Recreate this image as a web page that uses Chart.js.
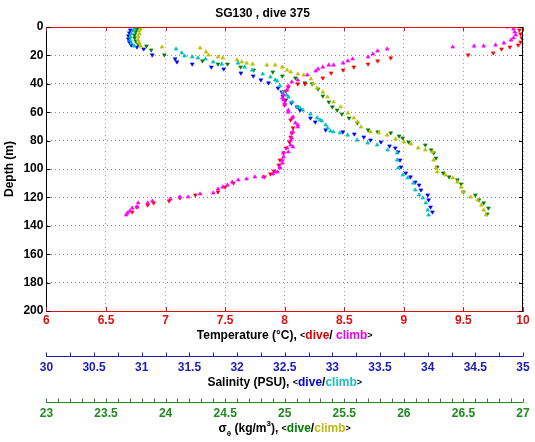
<!DOCTYPE html>
<html>
<head>
<meta charset="utf-8">
<script src="https://cdn.jsdelivr.net/npm/chart.js@4.4.0/dist/chart.umd.min.js"></script>
<style>
  html, body { margin: 0; padding: 0; background: #fff; }
  #wrap { width: 535px; height: 442px; position: relative; }
</style>
</head>
<body>
<div id="wrap"><canvas id="c"></canvas></div>
<script>
// temperature (°C) - dive / climb
const tempDiveT = [9.97, 9.98, 9.99, 9.98, 9.96, 9.89, 9.82, 9.75, 9.54, 8.89, 8.78, 8.70, 8.58, 8.49, 8.39, 8.32, 8.17, 8.11, 8.03, 8.01, 8.00, 8.00, 8.05, 8.07, 8.06, 8.05, 8.04, 8.01, 7.99, 7.96, 7.95, 7.91, 7.88, 7.83, 7.57, 7.50, 7.44, 7.25, 7.12, 7.03, 6.90, 6.85, 6.76, 6.72];
const tempDiveD = [2.1, 4.9, 7.7, 10.6, 12.7, 14.1, 15.5, 18.3, 19.7, 21.8, 23.9, 26.1, 28.2, 30.3, 32.4, 35.9, 40.1, 40.1, 42.3, 45.1, 51.4, 54.9, 65.5, 71.1, 74.6, 77.5, 81.0, 85.2, 88.7, 93.7, 97.2, 101.4, 103.5, 105.6, 109.9, 112.7, 116.2, 118.3, 120.4, 122.5, 123.9, 125.4, 126.8, 130.3];
const tempClimbT = [9.87, 9.92, 9.93, 9.94, 9.92, 9.90, 9.84, 9.77, 9.67, 9.59, 9.41, 8.86, 8.78, 8.74, 8.70, 8.57, 8.53, 8.49, 8.41, 8.37, 8.32, 8.28, 8.26, 8.19, 8.11, 8.06, 8.03, 8.02, 7.99, 7.98, 7.99, 8.00, 8.00, 8.03, 8.03, 8.06, 8.07, 8.09, 8.11, 8.11, 8.07, 8.06, 8.06, 8.05, 8.05, 8.07, 8.02, 8.03, 7.99, 7.99, 7.98, 7.98, 7.96, 7.96, 7.94, 7.92, 7.90, 7.82, 7.75, 7.68, 7.61, 7.56, 7.52, 7.48, 7.44, 7.40, 7.29, 7.19, 7.12, 7.04, 6.89, 6.85, 6.77, 6.76, 6.72, 6.70, 6.68, 6.67];
const tempClimbD = [0.0, 1.4, 3.5, 5.6, 7.7, 9.2, 11.3, 12.7, 13.4, 13.4, 14.1, 15.5, 16.9, 19.0, 21.1, 22.5, 23.9, 25.4, 26.8, 26.8, 28.2, 29.6, 31.0, 33.8, 37.3, 38.7, 41.5, 44.4, 47.9, 50.0, 51.4, 53.5, 54.9, 58.5, 59.9, 64.1, 63.4, 67.6, 69.0, 70.4, 73.9, 74.6, 78.2, 79.6, 83.1, 84.5, 85.2, 88.0, 88.7, 91.5, 93.7, 95.8, 98.6, 99.3, 102.1, 102.1, 103.5, 105.6, 105.6, 107.0, 107.7, 109.2, 111.3, 112.7, 114.1, 116.9, 117.6, 119.7, 119.7, 121.1, 122.5, 123.9, 123.9, 126.8, 127.5, 129.6, 131.0, 132.4];

// salinity (PSU) - dive / climb
const salDiveS = [30.88, 30.87, 30.86, 30.86, 30.87, 30.89, 30.95, 31.02, 31.11, 31.35, 31.37, 31.53, 31.73, 31.86, 32.04, 32.17, 32.25, 32.33, 32.43, 32.47, 32.48, 32.51, 32.57, 32.63, 32.66, 32.77, 32.82, 32.93, 33.11, 33.23, 33.33, 33.40, 33.51, 33.60, 33.66, 33.69, 33.71, 33.72, 33.77, 33.82, 33.87, 33.91, 33.93, 34.00, 34.01, 34.03, 34.05];
const salDiveD = [2.1, 4.2, 6.3, 8.5, 10.6, 12.7, 14.1, 15.5, 19.7, 22.5, 24.6, 26.1, 28.2, 29.6, 32.4, 34.5, 37.3, 39.4, 43.0, 45.8, 48.6, 51.4, 53.5, 56.3, 58.5, 64.1, 66.9, 72.5, 73.9, 75.4, 77.5, 79.6, 81.0, 83.8, 85.2, 88.0, 93.7, 98.6, 102.8, 105.6, 109.2, 111.3, 114.8, 118.3, 121.8, 126.8, 130.3];
const salClimbS = [30.93, 30.92, 30.91, 30.89, 30.88, 30.88, 30.89, 30.92, 31.36, 31.42, 31.45, 31.53, 31.59, 31.67, 31.75, 31.84, 32.01, 32.08, 32.16, 32.27, 32.35, 32.40, 32.42, 32.45, 32.48, 32.52, 32.54, 32.58, 32.63, 32.66, 32.69, 32.77, 32.84, 32.87, 32.89, 32.93, 32.95, 32.98, 33.01, 33.08, 33.16, 33.26, 33.37, 33.47, 33.58, 33.68, 33.68, 33.69, 33.74, 33.79, 33.85, 33.87, 33.91, 33.95, 33.98, 34.00, 34.01];
const salClimbD = [0.0, 1.4, 2.8, 4.9, 7.0, 9.2, 11.3, 13.4, 15.5, 18.3, 20.4, 21.1, 21.8, 22.5, 24.6, 26.1, 25.4, 28.2, 30.3, 33.1, 35.2, 37.3, 38.0, 41.5, 45.8, 47.9, 49.3, 52.8, 56.3, 57.0, 58.5, 61.3, 64.1, 65.5, 66.2, 69.0, 71.1, 73.2, 73.9, 74.6, 76.1, 79.6, 81.7, 83.1, 86.6, 88.7, 93.7, 99.3, 104.2, 106.3, 109.9, 114.8, 118.3, 120.4, 123.9, 128.9, 132.4];

// sigma-theta (kg/m3) - dive / climb
const sigDiveG = [23.76, 23.75, 23.74, 23.74, 23.75, 23.77, 23.84, 23.88, 23.99, 24.31, 24.44, 24.52, 24.63, 24.74, 24.90, 24.98, 25.09, 25.17, 25.23, 25.28, 25.32, 25.37, 25.40, 25.44, 25.48, 25.54, 25.61, 25.70, 25.78, 25.89, 25.96, 25.99, 26.04, 26.18, 26.23, 26.25, 26.27, 26.28, 26.33, 26.38, 26.45, 26.48, 26.50, 26.60, 26.63, 26.67, 26.71, 26.70];
const sigDiveD = [1.4, 3.5, 5.6, 7.7, 9.9, 12.0, 13.4, 16.2, 19.7, 23.9, 26.1, 26.1, 28.2, 30.3, 31.7, 34.5, 35.9, 39.4, 40.1, 43.7, 48.6, 52.8, 56.3, 58.5, 61.3, 64.1, 67.6, 72.5, 73.9, 74.6, 76.8, 78.2, 81.0, 83.1, 86.6, 88.7, 92.3, 98.6, 102.8, 105.6, 107.7, 110.6, 116.2, 118.3, 121.8, 123.9, 127.5, 131.7];
const sigClimbG = [23.81, 23.79, 23.78, 23.78, 23.77, 23.77, 23.78, 23.79, 23.97, 24.29, 24.34, 24.36, 24.44, 24.48, 24.60, 24.64, 24.68, 24.73, 24.85, 24.92, 24.98, 25.02, 25.05, 25.11, 25.16, 25.22, 25.24, 25.27, 25.32, 25.36, 25.41, 25.47, 25.53, 25.58, 25.61, 25.64, 25.72, 25.79, 25.86, 25.93, 26.00, 26.06, 26.12, 26.18, 26.24, 26.25, 26.27, 26.28, 26.35, 26.41, 26.45, 26.48, 26.50, 26.56, 26.62, 26.65, 26.67, 26.69];
const sigClimbD = [0.0, 1.4, 2.8, 4.9, 7.0, 9.2, 11.3, 13.4, 14.1, 14.8, 17.6, 19.7, 21.1, 21.8, 23.2, 24.6, 25.4, 26.1, 26.8, 26.8, 28.2, 30.3, 31.7, 33.1, 33.8, 36.6, 40.1, 43.0, 45.8, 49.3, 52.8, 56.3, 60.6, 64.1, 66.9, 70.4, 73.9, 74.6, 76.1, 78.9, 81.0, 82.4, 85.2, 86.6, 88.0, 93.7, 99.3, 102.1, 104.2, 106.3, 109.2, 112.7, 116.2, 119.7, 121.8, 125.4, 128.9, 132.4];

const FONT = '"Liberation Sans", Arial, Helvetica, sans-serif';
const RED = '#dd1111', BLUE = '#1c1cb4', GREEN = '#1f8a1f';

function pts(xs, ds) {
    return xs.map((v, i) => ({ x: v, y: ds[i] }));
}

function series(label, xs, ds, color, axis, down) {
    return {
        label,
        data: pts(xs, ds),
        xAxisID: axis,
        yAxisID: 'y',
        showLine: false,
        pointStyle: 'triangle',
        rotation: down ? 180 : 0,
        pointRadius: 2.2,
        pointBorderWidth: 0.6,
        backgroundColor: color,
        borderColor: color
    };
}

// draws multi-coloured text centred on cx
function drawParts(ctx, parts, cx, cy) {
    let w = 0;
    parts.forEach(p => {
        ctx.font = `bold ${p.s || 12}px ${FONT}`;
        p.w = ctx.measureText(p.t).width;
        w += p.w;
    });
    let x = cx - w / 2;
    ctx.textAlign = 'left';
    ctx.textBaseline = 'middle';
    parts.forEach(p => {
        ctx.font = `bold ${p.s || 12}px ${FONT}`;
        ctx.fillStyle = p.c || '#000';
        ctx.fillText(p.t, x, cy + (p.dy || 0));
        x += p.w;
    });
}

// centre of the (hidden) axis title, lineHeight 12
function titleY(scale) {
    return scale.bottom - scale.options.title.padding.bottom - 6;
}

const decor = {
    id: 'decor',
    afterDraw(chart) {
        const { ctx, chartArea: a, scales } = chart;
        ctx.save();
        ctx.lineWidth = 1;

        // frame top (red) and right (black)
        ctx.strokeStyle = RED;
        ctx.beginPath(); ctx.moveTo(a.left, Math.round(a.top) + 0.5); ctx.lineTo(a.right, Math.round(a.top) + 0.5); ctx.stroke();
        ctx.strokeStyle = '#000';
        ctx.beginPath(); ctx.moveTo(Math.round(a.right) - 0.5, a.top); ctx.lineTo(Math.round(a.right) - 0.5, a.bottom); ctx.stroke();

        // inward ticks on the plot box
        ctx.strokeStyle = RED;
        scales.x.ticks.forEach(t => {
            const px = Math.round(scales.x.getPixelForValue(t.value)) + 0.5;
            ctx.beginPath();
            ctx.moveTo(px, a.top); ctx.lineTo(px, a.top + 4);
            ctx.moveTo(px, a.bottom); ctx.lineTo(px, a.bottom - 4);
            ctx.stroke();
        });
        ctx.strokeStyle = '#000';
        scales.y.ticks.forEach(t => {
            const py = Math.round(scales.y.getPixelForValue(t.value)) + 0.5;
            ctx.beginPath();
            ctx.moveTo(a.left, py); ctx.lineTo(a.left + 4, py);
            ctx.moveTo(a.right, py); ctx.lineTo(a.right - 4, py);
            ctx.stroke();
        });

        // extra axes: line with ticks pointing up, just above the label box
        [['xs', BLUE], ['xg', GREEN]].forEach(([id, col]) => {
            const s = scales[id];
            const y0 = Math.round(s.top - 3) + 0.5;
            ctx.strokeStyle = col;
            ctx.beginPath();
            ctx.moveTo(s.left, y0); ctx.lineTo(s.right, y0);
            s.ticks.forEach(t => {
                const px = Math.round(s.getPixelForValue(t.value)) + 0.5;
                ctx.moveTo(px, y0); ctx.lineTo(px, y0 - 4);
            });
            ctx.stroke();
        });

        // axis titles with coloured parts
        const cx = (a.left + a.right) / 2;
        drawParts(ctx, [
            { t: 'Temperature (°C), ' },
            { t: '<', s: 9 },
            { t: 'dive', c: '#e00000' },
            { t: '/ ' },
            { t: 'climb', c: '#ee00ee' },
            { t: '>', s: 9 }
        ], cx, titleY(scales.x));
        drawParts(ctx, [
            { t: 'Salinity (PSU), ' },
            { t: '<', s: 9 },
            { t: 'dive', c: '#0000e0' },
            { t: '/' },
            { t: 'climb', c: '#1cbcbc' },
            { t: '>', s: 9 }
        ], cx, titleY(scales.xs));
        drawParts(ctx, [
            { t: 'σ' },
            { t: 'θ', s: 8, dy: 5 },
            { t: ' (kg/m' },
            { t: '3', s: 8, dy: -5 },
            { t: '), ' },
            { t: '<', s: 9 },
            { t: 'dive', c: '#008000' },
            { t: '/' },
            { t: 'climb', c: '#bcbc10' },
            { t: '>', s: 9 }
        ], cx, titleY(scales.xg));
        ctx.restore();
    }
};

const halfLabel = v => (Math.abs(v * 2 - Math.round(v * 2)) < 1e-6 ? String(Math.round(v * 2) / 2) : '');
const tickFont = { family: FONT, size: 12, weight: 'bold', lineHeight: 1 };
const hiddenTitle = (text, bottom) => ({
    display: true, text, color: 'rgba(0,0,0,0)',
    font: { family: FONT, size: 12, weight: 'bold', lineHeight: 1 }, padding: { top: 0, bottom }
});

new Chart(document.getElementById('c'), {
    type: 'scatter',
    data: {
        datasets: [
            series('T climb', tempClimbT, tempClimbD, '#ff00ff', 'x', false),
            series('S climb', salClimbS, salClimbD, '#00c0c0', 'xs', false),
            series('sigma climb', sigClimbG, sigClimbD, '#bfbf00', 'xg', false),
            series('T dive', tempDiveT, tempDiveD, '#ff0000', 'x', true),
            series('S dive', salDiveS, salDiveD, '#0000ff', 'xs', true),
            series('sigma dive', sigDiveG, sigDiveD, '#008000', 'xg', true)
        ]
    },
    options: {
        responsive: true,
        maintainAspectRatio: false,
        animation: false,
        layout: { padding: { left: 2, right: 12, top: 0, bottom: 0 } },
        plugins: {
            legend: { display: false },
            tooltip: { enabled: false },
            title: {
                display: true,
                text: 'SG130 , dive 375',
                color: '#000',
                font: { family: FONT, size: 12, weight: 'bold' },
                padding: { top: 6, bottom: 6.6 }
            }
        },
        scales: {
            y: {
                type: 'linear', reverse: true, min: 0, max: 200,
                ticks: { stepSize: 20, color: '#000', padding: 3, font: { family: FONT, size: 12, weight: 'bold' } },
                grid: { color: '#8c8c8c', drawTicks: false, lineWidth: 1 },
                border: { color: '#000', width: 1, dash: [1, 3] },
                title: { display: true, text: 'Depth (m)', color: '#000', font: { family: FONT, size: 12, weight: 'bold' }, padding: { top: 0, bottom: 4 } }
            },
            x: {
                type: 'linear', position: 'bottom', weight: 0, min: 6, max: 10,
                ticks: { stepSize: 0.5, color: RED, padding: 3.5, maxRotation: 0, autoSkip: false, callback: v => String(v), font: tickFont },
                grid: { color: '#c4a0a0', drawTicks: false, lineWidth: 1 },
                border: { color: RED, width: 1, dash: [1, 3] },
                title: hiddenTitle('Temperature (°C), <dive/ climb>', 17)
            },
            xs: {
                type: 'linear', position: 'bottom', weight: 1, min: 30, max: 35,
                ticks: { stepSize: 0.25, color: BLUE, padding: 3, maxRotation: 0, autoSkip: false, callback: halfLabel, font: tickFont },
                grid: { display: false, drawTicks: false },
                border: { display: false },
                title: hiddenTitle('Salinity (PSU), <dive/climb>', 16)
            },
            xg: {
                type: 'linear', position: 'bottom', weight: 2, min: 23, max: 27,
                ticks: { stepSize: 0.1, color: GREEN, padding: 3, maxRotation: 0, autoSkip: false, callback: halfLabel, font: tickFont },
                grid: { display: false, drawTicks: false },
                border: { display: false },
                title: hiddenTitle('sigma (kg/m3), <dive/climb>', 7)
            }
        }
    },
    plugins: [decor]
});
</script>
</body>
</html>
